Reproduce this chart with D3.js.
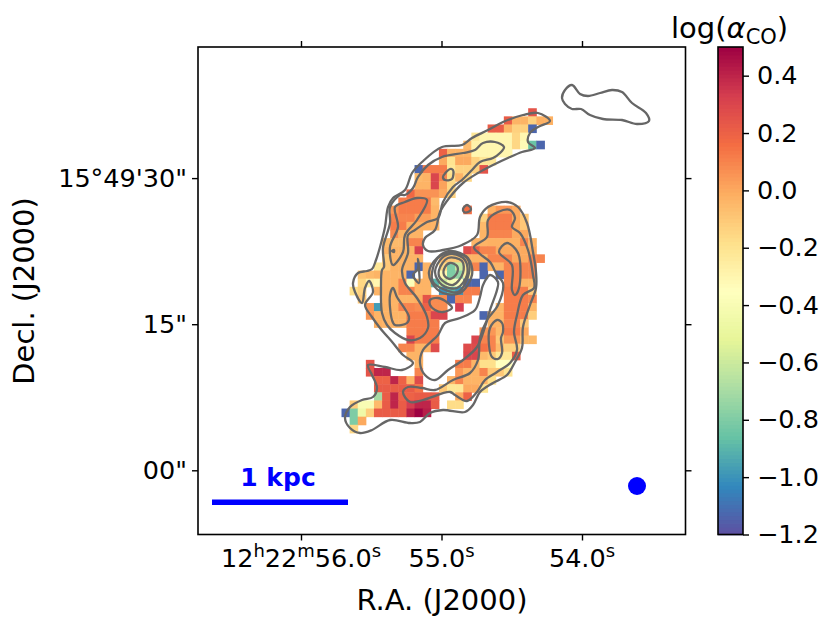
<!DOCTYPE html>
<html>
<head>
<meta charset="utf-8">
<script src="https://d3js.org/d3.v7.min.js"></script>
<style>
  body { margin: 0; background: white; }
  text { font-family: "DejaVu Sans", sans-serif; fill: black; }
</style>
</head>
<body>
<div id="chart"></div>
<script>
// log(alpha_CO) map of the galaxy

// colour bar range and ticks
const cbarDomain = [-1.2, 0.5];
const cbarTicks = [0.4, 0.2, 0.0, -0.2, -0.4, -0.6, -0.8, -1.0, -1.2];
const spectralStops = ["#5e4fa2", "#3288bd", "#66c2a5", "#abdda4", "#e6f598", "#ffffbf", "#fee08b", "#fdae61", "#f46d43", "#d53e4f", "#9e0142"];

// axis ticks, RA seconds and Dec arcsec past 15d49'
const raTicks = [56.0, 55.0, 54.0];
const decTicks = [30, 15, 0];
const decLabels = ["15°49'30\"", "15\"", "00\""];

// map pixels: [row, first column, values]
const cellRows = [
  [8, 41, [.25]],
  [9, 38, [.22, -.03, -.03, -.13, -.02, -.02]],
  [10, 36, [.22, .22, -.03, -.13, -.13, -1.13]],
  [11, 34, [-.22, -.3, -.3, -.3, -.3, -.15, -.3]],
  [12, 33, [-.05, -.28, -.3, -.3, -.3, -.3, -.15, -.32, -.85, -1.13]],
  [13, 30, [.2, -.03, -.03, -.03, -.3, -.3, -.3, -.3, -.3]],
  [14, 30, [0, -.2, 0, 0, -.13, -.22, -.22]],
  [15, 27, [-1.13, .12, .12, .12, -.22, -.13, -.13, -.13, .25]],
  [16, 27, [-.05, -.03, .3, .1, -.18, -.03, -.15]],
  [17, 27, [-.03, -.03, .3, .02, -.15]],
  [18, 26, [.18, .06, .06, .06, 0, -.13]],
  [19, 25, [.12, .12, .12, .12, -.05]],
  [20, 24, [.05, .12, .12, .12, .12, -.03]],
  [20, 33, [.16]],
  [20, 36, [-.02, .05, .05, 0]],
  [21, 24, [.1, .1, .1, .03, .03, -.03]],
  [21, 35, [-.13, .12, .12, .12, 0, -.1]],
  [22, 24, [.12, .12, -.02, -.02, -.02, -.03]],
  [22, 35, [-.05, .12, .12, .12, 0, -.1]],
  [23, 24, [.08, -.03, -.03, -.03]],
  [23, 35, [-.03, .1, .1, .1, 0, 0]],
  [24, 23, [-.05, -.05, -.05, .1, .1]],
  [24, 34, [-.03, -.03, -.02, -.02, -.02, -.02, .1, -.03]],
  [25, 23, [-.03, -.03, -.03, -.03, .32]],
  [25, 33, [.28, .2, .1, .1, 0, 0, 0, 0, 0]],
  [26, 23, [-.1, -.03, -.03, -.03, -.03]],
  [26, 30, [-.05, -.1, -.1, -.03, -.03, -.03, .1, .1, .1, 0, 0, .1, .1]],
  [27, 22, [-.22, -.1, -.03, -.03, -.03, -1.13, -.03]],
  [27, 30, [-.15, -.8, -.6, -.2, .1]],
  [27, 35, [-1.13, -.03, -.03, .1, .1, .1, .1]],
  [28, 20, [-.08, -.05, -.03, -.03, -.03, -.03, -1.13]],
  [28, 28, [-.03]],
  [28, 30, [-.3, -.8, -.75, -.25]],
  [28, 35, [-1.13, null, -1.13, .1, .1, .1, .1]],
  [29, 20, [-.15, -.27, -.3, -.03, -.03, .1, -.38, -.03, -.03, -.9, -.6, -.4, -.35, -1.13, -1.13]],
  [29, 38, [.1, .1, -.03, -.03]],
  [30, 19, [-.18, -.13]],
  [30, 22, [-.03, -.03, -.03, .1, .1, -.03, -.03]],
  [30, 30, [-1, -.9, -1, .12, .12]],
  [30, 38, [.12, .12, .12, -.1]],
  [31, 20, [-.1]],
  [31, 23, [-.03, -.03, -.03, -.03, -.01, .25, .08, .08, -1.13, .1, .1]],
  [31, 38, [.12, .12, .12, .1]],
  [32, 21, [.05, -.97, -.03, -.03, .1, .1, .08, .2, .08, .08]],
  [32, 32, [.33]],
  [32, 37, [-.03, .12, .12, .12, -.03]],
  [33, 21, [.05, -.03, -.03, -.03, -.03, .12, .12, .12, .3, .3]],
  [33, 35, [-1.13, -.03, -.03, .12, .12, .12, -.12]],
  [34, 22, [-.02, -.03, -.03, -.03, .12, .12, .12, .12]],
  [34, 36, [-.03, -.03, .1, .1, -.1]],
  [35, 26, [.12, .12, .12, .12]],
  [35, 35, [.05, .05, -.05, .12, .12, 0]],
  [36, 26, [.3, .12, .12, .12]],
  [36, 34, [.3, .1, .1, -.1, .05, .05, -.05, -.05]],
  [37, 25, [.1, .1, -.03, -.03, .28]],
  [37, 33, [.28, .28, .15, .1, -.05, -.13, -.13]],
  [38, 26, [-.03, -.03]],
  [38, 33, [.3, .3, -.05, -.1, -.22, -.22, .22]],
  [39, 21, [.25]],
  [39, 27, [-.03]],
  [39, 32, [.12, .12, -.03, -.18, -.18, -.35, -.35]],
  [40, 21, [.25, .4, .4]],
  [40, 27, [.1]],
  [40, 32, [.05, -.03, -.03, .1, -.1, -.1, -.2]],
  [41, 22, [.2, .2, .4, .2, -.03, .28]],
  [41, 31, [-.03, .1, -.03, -.03, -.03, -.18]],
  [42, 22, [.22, .22, .22, .22, .22, .15]],
  [42, 30, [-.1, -.22, -.22, 0, 0, -.2]],
  [43, 22, [-.7, .22, .4, .2, .2, .22, .22, .22]],
  [43, 32, [0, .2]],
  [44, 19, [-.12, -.4, -.4, -.05, .22, .4, .22, .33, .4, .4, .22]],
  [44, 31, [-.17, -.17]],
  [45, 18, [-1.13, -.8, -.45, -.12, .22, .22, .22, .22, .42, .5, .42]],
  [46, 19, [-.8, 0]],
  [47, 19, [-.15]]
];

// contour vertices in map units, from the top left corner of the frame
const outerContour = [[178,213],[182,200],[187,180],[190,160],[195,151],[207,143],[214,126],[224,115],[244,100],[264,98],[274,91],[290,83],[305,75],[325,68],[340,66],[352,74],[340,80],[332,86],[330,95],[337,101],[324,105],[312,110],[295,118],[280,126],[265,136],[252,150],[242,165],[237,183],[227,191],[225,198],[230,204],[245,203],[264,198],[279,188],[282,170],[290,160],[309,155],[320,160],[329,176],[335,205],[338,225],[338,241],[332,258],[325,280],[324,301],[317,315],[309,328],[295,336],[282,345],[275,358],[267,365],[245,363],[232,366],[222,375],[212,376],[192,373],[174,383],[162,386],[152,381],[147,371],[152,360],[164,353],[175,350],[179,341],[174,328],[170,318],[187,320],[204,323],[215,316],[205,308],[195,296],[182,281],[174,270],[167,258],[175,245],[171,234],[167,241],[164,256],[157,245],[155,236],[160,226],[169,224],[174,222]];
const centralHole = [[292,228],[285,238],[282,250],[277,263],[262,271],[247,276],[240,288],[225,303],[222,316],[227,328],[237,333],[250,323],[265,313],[279,300],[287,280],[292,263],[299,243],[300,235]];
const nuclearHole = [[232,253],[240,251],[250,256],[254,261],[245,265],[237,263],[232,258]];
const neCloud = [[364,51],[367,43],[374,38],[382,47],[390,49],[402,46],[414,43],[424,45],[434,56],[448,66],[451,74],[439,77],[424,73],[405,72],[392,68],[383,62],[374,62],[367,57]];
const westArm = [[192,160],[202,148],[207,148],[215,141],[220,130],[230,118],[244,110],[265,106],[277,103],[285,96],[297,95],[306,100],[302,106],[295,111],[282,115],[274,123],[264,133],[255,140],[245,155],[240,171],[229,175],[217,183],[210,188],[210,206],[204,223],[207,236],[219,251],[229,270],[230,281],[222,291],[210,293],[197,286],[189,278],[184,266],[183,243],[184,223],[186,220],[185,201],[192,176]];
const eastArm = [[289,190],[290,173],[300,165],[312,163],[317,171],[314,180],[322,186],[330,203],[335,228],[336,241],[325,248],[319,268],[316,285],[319,303],[312,316],[299,325],[287,333],[279,345],[269,354],[257,348],[252,345],[225,353],[212,355],[205,345],[210,340],[224,341],[237,343],[255,333],[272,326],[280,313],[282,291],[289,273],[300,258],[305,236],[299,228],[292,215],[282,207],[276,200]];
const innerLoops = [
  [[245,130],[252,122],[255,123],[254,132],[247,133]],
  [[265,162],[269,158],[273,162],[270,165],[266,165]],
  [[229,153],[219,151],[207,155],[197,160],[200,180],[192,200],[195,218],[205,205],[207,188],[219,173]],
  [[195,241],[192,248],[194,273],[197,278],[209,276],[211,270],[199,250]],
  [[301,205],[309,196],[320,206],[321,241],[317,248],[314,243],[314,218]],
  [[292,281],[299,273],[304,276],[305,285],[303,291],[304,306],[300,312],[294,310],[291,298]],
  [[215,228],[220,222],[220,212],[221,222],[221,236]],
  [[194,204],[196,203],[196,205]]
];
const nucleusRings = [
  [[231,225],[239,211],[252,204],[270,211],[274,228],[262,246],[245,246],[234,236]],
  [[234,226],[240,211],[252,206],[269,211],[271,226],[260,245],[245,242],[235,235]],
  [[237,225],[244,211],[255,207],[267,213],[269,228],[259,241],[244,238]],
  [[241,223],[250,211],[264,214],[265,226],[255,238],[242,231]],
  [[247,220],[252,216],[259,219],[259,226],[252,232],[246,228]]
];

const width = 831, height = 630;
const frame = { left: 198, top: 47, right: 685.5, bottom: 534.5 };
const cbar = { left: 718, right: 743 };

const svg = d3.select("#chart").append("svg")
    .attr("width", width)
    .attr("height", height)
    .style("display", "block");

// scales
const raScale = d3.scaleLinear().domain([56, 54]).range([301, 582]);
const decScale = d3.scaleLinear().domain([0, 30]).range([470.3, 178.1]);
const colScale = d3.scaleLinear().domain([0, 60]).range([195.4, 682.4]);
const rowScale = d3.scaleLinear().domain([0, 60]).range([43.3, 530.3]);
const mapX = d3.scaleLinear().domain([0, 487]).range([198, 685]);
const mapY = d3.scaleLinear().domain([0, 487]).range([47, 534]);
const colorScale = d3.scaleLinear()
    .domain(spectralStops.map((c, i) => cbarDomain[0] + (cbarDomain[1] - cbarDomain[0]) * i / 10))
    .range(spectralStops)
    .clamp(true);

// map pixels
const cells = [];
cellRows.forEach(function (row) {
    row[2].forEach(function (v, i) {
        if (v !== null) cells.push({ row: row[0], col: row[1] + i, value: v });
    });
});
svg.append("g").selectAll("rect")
    .data(cells)
    .enter()
    .append("rect")
    .attr("x", d => colScale(d.col))
    .attr("y", d => rowScale(d.row))
    .attr("width", colScale(1) - colScale(0) + 0.5)
    .attr("height", rowScale(1) - rowScale(0) + 0.5)
    .style("fill", d => colorScale(d.value));

// contours
const contourLine = d3.line()
    .x(d => mapX(d[0]))
    .y(d => mapY(d[1]))
    .curve(d3.curveCatmullRomClosed.alpha(0.5));
const contours = [outerContour, centralHole, nuclearHole, neCloud, westArm, eastArm]
    .concat(innerLoops, nucleusRings);
svg.append("g").selectAll("path")
    .data(contours)
    .enter()
    .append("path")
    .attr("d", contourLine)
    .style("fill", "none")
    .style("stroke", "#666")
    .style("stroke-width", 2.3);

// frame and ticks on all four sides
function styleAxis(g) {
    g.selectAll("path").style("stroke", "black").style("stroke-width", 1.6);
    g.selectAll("line").style("stroke", "black").style("stroke-width", 1.4);
}
const blank = () => "";
svg.append("rect")
    .attr("x", frame.left).attr("y", frame.top)
    .attr("width", frame.right - frame.left).attr("height", frame.bottom - frame.top)
    .style("fill", "none").style("stroke", "black").style("stroke-width", 1.6);
function tickAxis(axis, tx, ty) {
    const g = svg.append("g")
        .attr("transform", "translate(" + tx + "," + ty + ")")
        .call(axis.tickSizeOuter(0).tickSize(6).tickFormat(blank));
    g.select(".domain").remove();
    styleAxis(g);
}
tickAxis(d3.axisBottom(raScale).tickValues(raTicks), 0, frame.bottom);
tickAxis(d3.axisTop(raScale).tickValues(raTicks), 0, frame.top);
tickAxis(d3.axisLeft(decScale).tickValues(decTicks), frame.left, 0);
tickAxis(d3.axisRight(decScale).tickValues(decTicks), frame.right, 0);

// RA tick labels with raised units
const raText = svg.append("g").selectAll("text")
    .data(raTicks)
    .enter()
    .append("text")
    .attr("x", d => raScale(d))
    .attr("y", 567)
    .attr("text-anchor", "middle")
    .style("font-size", "25.5px");
raText.each(function (d, i) {
    const t = d3.select(this);
    const sup = (s) => t.append("tspan").attr("dy", -10).style("font-size", "18px").text(s);
    const base = (s) => t.append("tspan").attr("dy", 10).text(s);
    if (i === 0) {
        t.append("tspan").text("12");
        sup("h");
        base("22");
        sup("m");
        base(d.toFixed(1));
    } else {
        t.append("tspan").text(d.toFixed(1));
    }
    sup("s");
});

decTicks.forEach(function (d, i) {
    svg.append("text")
        .attr("x", 187)
        .attr("y", decScale(d) + 9)
        .attr("text-anchor", "end")
        .style("font-size", "25.5px")
        .text(decLabels[i]);
});

svg.append("text")
    .attr("x", 442).attr("y", 610)
    .attr("text-anchor", "middle")
    .style("font-size", "29px")
    .text("R.A. (J2000)");
svg.append("text")
    .attr("transform", "translate(34,291) rotate(-90)")
    .attr("text-anchor", "middle")
    .style("font-size", "29px")
    .text("Decl. (J2000)");

// scale bar and beam
svg.append("line")
    .attr("x1", 212).attr("x2", 348)
    .attr("y1", 502.3).attr("y2", 502.3)
    .style("stroke", "blue").style("stroke-width", 5.5);
svg.append("text")
    .attr("x", 278).attr("y", 486)
    .attr("text-anchor", "middle")
    .style("font-size", "25px").style("font-weight", "bold").style("fill", "blue")
    .text("1 kpc");
svg.append("circle")
    .attr("cx", 637).attr("cy", 486).attr("r", 9)
    .style("fill", "blue");

// colour bar
const nLevels = 128;
const levelStep = (cbarDomain[1] - cbarDomain[0]) / nLevels;
const cbarScale = d3.scaleLinear().domain(cbarDomain).range([frame.bottom, frame.top]);
const levels = d3.range(0, nLevels).map(i => cbarDomain[0] + levelStep * i);
svg.append("g").selectAll("rect")
    .data(levels)
    .enter()
    .append("rect")
    .attr("x", cbar.left)
    .attr("width", cbar.right - cbar.left)
    .attr("y", d => cbarScale(d + levelStep))
    .attr("height", cbarScale(0) - cbarScale(levelStep) + 0.8)
    .style("fill", d => colorScale(d + levelStep / 2));
svg.append("rect")
    .attr("x", cbar.left).attr("y", frame.top)
    .attr("width", cbar.right - cbar.left).attr("height", frame.bottom - frame.top)
    .style("fill", "none").style("stroke", "black").style("stroke-width", 1.6);
const cbarAxis = svg.append("g")
    .attr("transform", "translate(" + cbar.right + ",0)")
    .call(d3.axisRight(cbarScale).tickValues(cbarTicks).tickSize(6).tickPadding(8)
        .tickFormat(d => d3.format(".1f")(d).replace("-", "\u2212")));
cbarAxis.select(".domain").remove();
styleAxis(cbarAxis);
cbarAxis.selectAll("text").style("font-size", "25.5px").style("font-family", "DejaVu Sans");

// colour bar title
const title = svg.append("text")
    .attr("x", 671).attr("y", 38)
    .style("font-size", "29px");
title.append("tspan").text("log(");
title.append("tspan").style("font-style", "italic").text("\u03b1");
title.append("tspan").attr("dy", 6).style("font-size", "21px").text("CO");
title.append("tspan").attr("dy", -6).text(")");
</script>
</body>
</html>
